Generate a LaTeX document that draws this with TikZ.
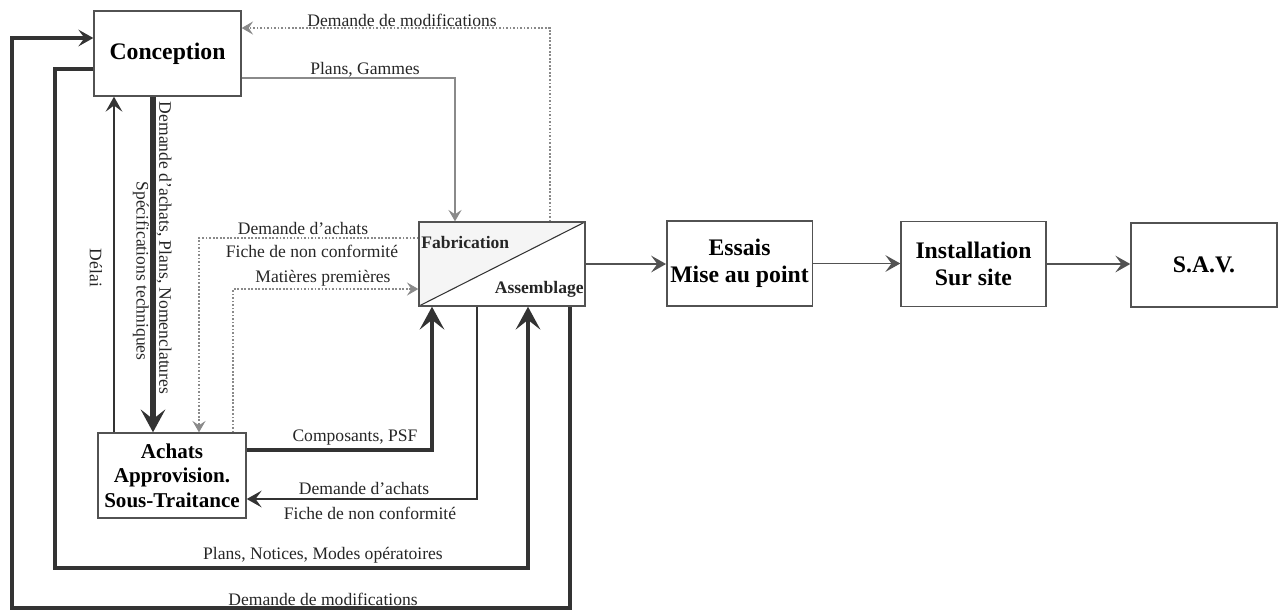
\documentclass[tikz,border=0pt]{standalone}
\usepackage{fontspec}
\setmainfont{Liberation Serif}
\usetikzlibrary{arrows.meta}
\usetikzlibrary{positioning}

\definecolor{trait}{HTML}{333333}
\definecolor{gris}{HTML}{8A8A8A}

\begin{document}
\begin{tikzpicture}[x=0.02cm,y=-0.02cm,
  boite/.style={draw=trait!85,line width=0.8pt,fill=white,align=center,inner sep=2pt,
    font=\fontsize{13.5}{15.5}\selectfont\bfseries},
  lbl/.style={font=\fontsize{10}{12}\selectfont,text=black!85,inner sep=0pt},
  gras/.style={font=\fontsize{10}{12}\selectfont\bfseries,text=black!85,inner sep=0pt},
  tresgros/.style={draw=trait,line width=3pt},
  gros/.style={draw=trait,line width=2.4pt},
  fort/.style={draw=trait,line width=1.8pt},
  moyen/.style={draw=trait,line width=1.2pt},
  fin/.style={draw=gris,line width=0.6pt},
  pointille/.style={draw=gris,line width=0.6pt,dash pattern=on 1pt off 1pt},
  chaine/.style={draw=trait!85,line width=1.1pt},
  grande/.style={-{Stealth[length=13pt,width=14pt,inset=5.5pt]}},
  moy/.style={-{Stealth[length=8.5pt,width=9.5pt,inset=3.5pt]}},
  petite/.style={-{Stealth[length=6.5pt,width=7.5pt,inset=2.5pt]}}]
  \useasboundingbox (0,0) rectangle (1282,610);

  % boites
  \node[boite,minimum width=2.94cm,minimum height=1.7cm] (conc) at (167.5,53.5) {Conception};
  \node[boite,minimum width=3.32cm,minimum height=1.68cm,
    path picture={
      \fill[black!4] (path picture bounding box.north west) -- (path picture bounding box.north east)
        -- (path picture bounding box.south west) -- cycle;
      \draw[trait,line width=0.6pt] (path picture bounding box.south west) -- (path picture bounding box.north east);
    }] (fab) at (502,264) {};
  \node[gras,anchor=west] (fabtxt) at (421,242) {Fabrication};
  \node[gras,anchor=east] (asstxt) at (584,289) {Assemblage};
  \node[boite,minimum width=2.9cm,minimum height=1.7cm] (essais) at (739.5,263.5) {Essais\\Mise au point};
  \node[boite,minimum width=2.9cm,minimum height=1.7cm] (instal) at (973.5,264) {Installation\\Sur site};
  \node[boite,minimum width=2.92cm,minimum height=1.68cm] (sav) at (1204,265) {S.A.V.};
  \node[boite,minimum width=2.96cm,minimum height=1.7cm,font=\fontsize{12}{14}\selectfont\bfseries]
    (achats) at (172,475.5) {Achats\\Approvision.\\Sous-Traitance};

  % flux principal
  \draw[chaine,moy] (fab.east) -- (fab.east -| essais.west);
  \draw[chaine,moy] (essais.east) -- (essais.east -| instal.west);
  \draw[chaine,moy] (instal.east) -- (instal.east -| sav.west);

  % conception <-> fabrication
  \draw[pointille,petite] (fab.north -| 550,0) |- (conc.east |- 0,28);
  \node[lbl] (lmodt) at (402,20) {Demande de modifications};
  \draw[fin,petite] (conc.east |- 0,78) -| (fab.north -| 455,0);
  \node[lbl] (lgam) at (365,70) {Plans, Gammes};

  % conception <-> achats
  \draw[moyen,moy] (achats.north -| 114,0) -- (conc.south -| 114,0);
  \node[lbl,rotate=-90] (ldelai) at (96,268) {Délai};
  \draw[tresgros,grande] (conc.south -| 153,0) -- (achats.north -| 153,0);
  \node[lbl,rotate=-90] (ldem) at (164,248) {Demande d’achats, Plans, Nomenclatures};
  \node[lbl,rotate=-90] (lspec) at (141,271) {Spécifications techniques};

  % achats <-> fabrication
  \draw[pointille,petite] (fab.west |- 0,238) -| (achats.north -| 199,0);
  \node[lbl] (lda1) at (303,228) {Demande d’achats};
  \node[lbl] (lfnc1) at (312,251) {Fiche de non conformité};
  \draw[pointille,petite] (achats.north -| 233,0) |- (fab.west |- 0,289);
  \node[lbl] (lmp) at (323,278) {Matières premières};
  \draw[fort,grande] (achats.east |- 0,450) -| (fab.south -| 432,0);
  \node[lbl] (lcomp) at (355,438) {Composants, PSF};
  \draw[moyen,moy] (fab.south -| 477,0) |- (achats.east |- 0,499);
  \node[lbl] (lda2) at (364,488) {Demande d’achats};
  \node[lbl] (lfnc2) at (370,513) {Fiche de non conformité};

  % boucles
  \draw[gros,grande] (conc.west |- 0,69) -| (55,568) -| (fab.south -| 528,0);
  \node[lbl] (lplans) at (323,555) {Plans, Notices, Modes opératoires};
  \draw[fort,moy] (fab.south -| 570,0) |- (12,608) |- (conc.west |- 0,38);
  \node[lbl] (lmodb) at (323,599) {Demande de modifications};
\end{tikzpicture}
\end{document}
